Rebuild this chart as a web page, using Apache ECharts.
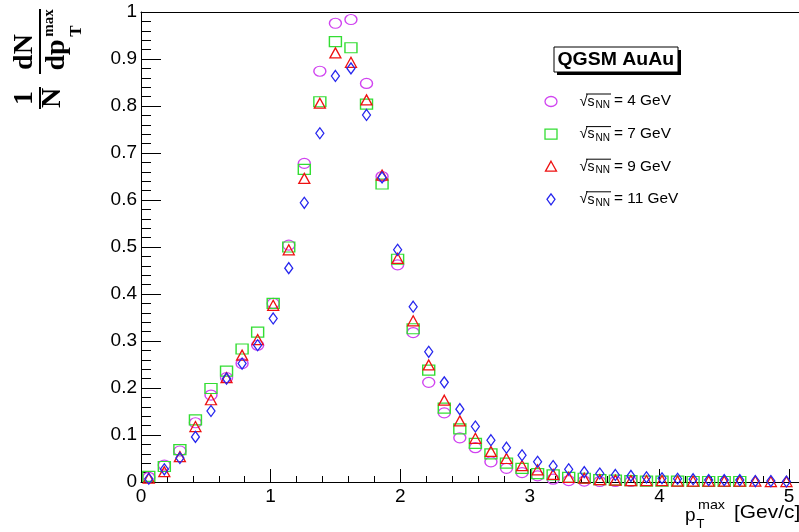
<!DOCTYPE html>
<html>
<head>
<meta charset="utf-8">
<script src="https://cdn.jsdelivr.net/npm/echarts@6/dist/echarts.min.js"></script>
<style>
  html, body { margin: 0; padding: 0; background: #fff; }
  #chart { width: 799px; height: 532px; }
</style>
</head>
<body>
<div id="chart"></div>
<script>
// Bin centres of the p_T^max histogram (GeV/c)
const ptBins = [0.06, 0.18, 0.30, 0.42, 0.54, 0.66, 0.78, 0.90, 1.02, 1.14,
                1.26, 1.38, 1.50, 1.62, 1.74, 1.86, 1.98, 2.10, 2.22, 2.34,
                2.46, 2.58, 2.70, 2.82, 2.94, 3.06, 3.18, 3.30, 3.42, 3.54,
                3.66, 3.78, 3.90, 4.02, 4.14, 4.26, 4.38, 4.50, 4.62, 4.74,
                4.86, 4.98];

// Normalised yields, one array per collision energy (null = empty bin)
const yield4GeV = [0.010, 0.036, 0.066, 0.126, 0.185, 0.222, 0.252, 0.291, 0.380, 0.504,
                   0.678, 0.874, 0.976, 0.984, 0.848, 0.650, 0.462, 0.318, 0.212, 0.147,
                   0.094, 0.073, 0.043, 0.029, 0.020, 0.013, 0.006, 0.003, 0.002, 0.001,
                   0.001, 0.001, null, null, null, null, null, null, null, null,
                   null, null];
const yield7GeV = [0.012, 0.033, 0.069, 0.132, 0.199, 0.236, 0.283, 0.319, 0.380, 0.500,
                   0.665, 0.809, 0.937, 0.924, 0.804, 0.634, 0.474, 0.326, 0.238, 0.157,
                   0.113, 0.082, 0.060, 0.040, 0.029, 0.018, 0.015, 0.010, 0.008, 0.005,
                   0.004, 0.003, 0.002, 0.002, 0.002, 0.001, 0.001, 0.001, 0.001, null,
                   null, null];
const yield9GeV = [0.008, 0.022, 0.054, 0.118, 0.175, 0.222, 0.270, 0.303, 0.376, 0.494,
                   0.646, 0.806, 0.913, 0.893, 0.813, 0.653, 0.476, 0.343, 0.249, 0.174,
                   0.130, 0.093, 0.065, 0.050, 0.035, 0.026, 0.016, 0.010, 0.008, 0.005,
                   0.004, 0.003, 0.003, 0.003, 0.002, 0.002, 0.002, 0.002, 0.002, 0.002,
                   0.001, 0.001];
const yield11GeV = [0.007, 0.027, 0.051, 0.096, 0.151, 0.220, 0.252, 0.291, 0.348, 0.455,
                    0.594, 0.742, 0.864, 0.880, 0.781, 0.648, 0.494, 0.373, 0.277, 0.212,
                    0.155, 0.118, 0.089, 0.073, 0.057, 0.043, 0.034, 0.027, 0.021, 0.018,
                    0.015, 0.013, 0.010, 0.008, 0.007, 0.006, 0.004, 0.004, 0.004, 0.002,
                    0.002, 0.001];

// Axis tick labels
const xTickLabels = [0, 1, 2, 3, 4, 5];
const xMinorTicks = [0.2, 0.4, 0.6, 0.8, 1.2, 1.4, 1.6, 1.8, 2.2, 2.4, 2.6, 2.8,
                     3.2, 3.4, 3.6, 3.8, 4.2, 4.4, 4.6, 4.8];
const legendEnergies = ['4', '7', '9', '11'];

function toPoints(values) {
  const pts = [];
  values.forEach((v, i) => { if (v !== null) pts.push([ptBins[i], v]); });
  return pts;
}

const X_MAX = 5.077;
const SANS = '"Liberation Sans", Arial, Helvetica, sans-serif';
const SERIF = '"Liberation Serif", "Times New Roman", serif';

const seriesStyle = [
  { name: '4 GeV',  data: yield4GeV,  symbol: 'circle',   size: [12, 10], color: '#d043f0' },
  { name: '7 GeV',  data: yield7GeV,  symbol: 'rect',     size: [12, 10], color: '#33dd33' },
  { name: '9 GeV',  data: yield9GeV,  symbol: 'triangle', size: [11, 10], color: '#ee1111' },
  { name: '11 GeV', data: yield11GeV, symbol: 'diamond',  size: [8, 11],  color: '#2626ee' }
];

const chart = echarts.init(document.getElementById('chart'), null, { renderer: 'canvas' });

// Legend box entries
const legendGraphics = [];
const legendX = 551, legendY0 = 101.5, legendStep = 32.6;
seriesStyle.forEach((s, k) => {
  const cy = legendY0 + k * legendStep;
  const stroke = { fill: 'none', stroke: s.color, lineWidth: 1.3 };
  if (s.symbol === 'circle') {
    legendGraphics.push({ type: 'ellipse', shape: { cx: legendX, cy: cy, rx: 6, ry: 5 }, style: stroke });
  } else if (s.symbol === 'rect') {
    legendGraphics.push({ type: 'rect', shape: { x: legendX - 6, y: cy - 5, width: 12, height: 10 }, style: stroke });
  } else if (s.symbol === 'triangle') {
    legendGraphics.push({ type: 'polygon', shape: { points: [[legendX, cy - 5.5], [legendX + 5.5, cy + 4.5], [legendX - 5.5, cy + 4.5]] }, style: stroke });
  } else {
    legendGraphics.push({ type: 'polygon', shape: { points: [[legendX, cy - 5.5], [legendX + 4, cy], [legendX, cy + 5.5], [legendX - 4, cy]] }, style: stroke });
  }
  // sqrt(s_NN) = E GeV
  legendGraphics.push({ type: 'text', x: 579.5, y: cy, style: { text: '√', font: '15px ' + SANS, fill: '#000', align: 'left', verticalAlign: 'middle', textAlign: 'left', textVerticalAlign: 'middle' } });
  legendGraphics.push({ type: 'line', shape: { x1: 586, y1: cy - 7.5, x2: 611, y2: cy - 7.5 }, style: { stroke: '#000', lineWidth: 1 } });
  legendGraphics.push({ type: 'text', x: 587.5, y: cy + 0.5, style: { text: 's', font: '14px ' + SANS, fill: '#000', align: 'left', verticalAlign: 'middle', textAlign: 'left', textVerticalAlign: 'middle' } });
  legendGraphics.push({ type: 'text', x: 595.5, y: cy + 4, style: { text: 'NN', font: '10px ' + SANS, fill: '#000', align: 'left', verticalAlign: 'middle', textAlign: 'left', textVerticalAlign: 'middle' } });
  legendGraphics.push({ type: 'text', x: 614, y: cy, scaleX: 1.1, style: { text: '= ' + legendEnergies[k] + ' GeV', font: '14px ' + SANS, fill: '#000', align: 'left', verticalAlign: 'middle', textAlign: 'left', textVerticalAlign: 'middle' } });
});

function rotText(txt, x, y, size) {
  return { type: 'text', x: x, y: y, rotation: Math.PI / 2,
           style: { text: txt, font: 'bold ' + size + 'px ' + SERIF, fill: '#000',
                    align: 'center', verticalAlign: 'middle', textAlign: 'center', textVerticalAlign: 'middle' } };
}

const titleGraphics = [
  // vertical axis title: 1/N dN/dp_T^max
  rotText('1', 25, 98, 28),
  { type: 'line', shape: { x1: 40, y1: 87, x2: 40, y2: 109 }, style: { stroke: '#000', lineWidth: 2 } },
  rotText('N', 53, 98, 28),
  rotText('dN', 25, 52, 28),
  { type: 'line', shape: { x1: 40, y1: 9, x2: 40, y2: 74 }, style: { stroke: '#000', lineWidth: 2 } },
  rotText('dp', 57, 55, 28),
  rotText('max', 49, 23, 15),
  rotText('T', 77, 31, 17),
  // horizontal axis title: p_T^max [Gev/c]
  { type: 'text', x: 685, y: 516, style: { text: 'p', font: '19px ' + SANS, fill: '#000', align: 'left', verticalAlign: 'middle', textAlign: 'left', textVerticalAlign: 'middle' } },
  { type: 'text', x: 698, y: 505, scaleX: 1.1, style: { text: 'max', font: '13px ' + SANS, fill: '#000', align: 'left', verticalAlign: 'middle', textAlign: 'left', textVerticalAlign: 'middle' } },
  { type: 'text', x: 696.5, y: 524.5, style: { text: 'T', font: '13px ' + SANS, fill: '#000', align: 'left', verticalAlign: 'middle', textAlign: 'left', textVerticalAlign: 'middle' } },
  { type: 'text', x: 734, y: 513, scaleX: 1.1, style: { text: '[Gev/c]', font: '19px ' + SANS, fill: '#000', align: 'left', verticalAlign: 'middle', textAlign: 'left', textVerticalAlign: 'middle' } },
  // "QGSM AuAu" label box with shadow
  { type: 'rect', shape: { x: 557, y: 50, width: 124, height: 25 }, style: { fill: '#000' } },
  { type: 'rect', shape: { x: 554, y: 47, width: 124, height: 25 }, style: { fill: '#fff', stroke: '#000', lineWidth: 1 } },
  { type: 'text', x: 557.5, y: 60, scaleX: 1.08, style: { text: 'QGSM AuAu', font: 'bold 18px ' + SANS, fill: '#000', align: 'left', verticalAlign: 'middle', textAlign: 'left', textVerticalAlign: 'middle' } }
];

const option = {
  animation: false,
  backgroundColor: '#fff',
  grid: { left: 141, right: 0, top: 12, bottom: 50, containLabel: false, outerBoundsMode: 'none' },
  xAxis: [
    {
      type: 'value', min: 0, max: X_MAX, position: 'bottom',
      axisLine: { show: true, onZero: false, lineStyle: { color: '#000', width: 1 } },
      axisTick: { show: true, inside: true, length: 13, customValues: xTickLabels, lineStyle: { color: '#000', width: 1 } },
      minorTick: { show: false },
      splitLine: { show: false },
      axisLabel: { show: true, customValues: xTickLabels, margin: 5, color: '#000', fontSize: 19, fontFamily: SANS }
    },
    {
      type: 'value', min: 0, max: X_MAX, position: 'bottom',
      axisLine: { show: false },
      axisTick: { show: true, inside: true, length: 6, customValues: xMinorTicks, lineStyle: { color: '#000', width: 1 } },
      minorTick: { show: false },
      splitLine: { show: false },
      axisLabel: { show: false }
    },
    {
      type: 'value', min: 0, max: X_MAX, position: 'top',
      axisLine: { show: true, onZero: false, lineStyle: { color: '#000', width: 1 } },
      axisTick: { show: false },
      splitLine: { show: false },
      axisLabel: { show: false }
    }
  ],
  yAxis: {
    type: 'value', min: 0, max: 1, interval: 0.1,
    axisLine: { show: true, onZero: false, lineStyle: { color: '#000', width: 1 } },
    axisTick: { show: true, inside: true, length: 20, lineStyle: { color: '#000', width: 1 } },
    minorTick: { show: true, splitNumber: 5, length: 10, lineStyle: { color: '#000', width: 1 } },
    splitLine: { show: false },
    axisLabel: { margin: 4, color: '#000', fontSize: 19, fontFamily: SANS }
  },
  series: seriesStyle.map(s => ({
    name: s.name,
    type: 'scatter',
    xAxisIndex: 0,
    data: toPoints(s.data),
    symbol: s.symbol,
    symbolSize: s.size,
    itemStyle: { color: 'rgba(0,0,0,0)', borderColor: s.color, borderWidth: 1.3, opacity: 1 },
    emphasis: { disabled: true },
    clip: false
  })),
  graphic: titleGraphics.concat(legendGraphics)
};

chart.setOption(option);
</script>
</body>
</html>
